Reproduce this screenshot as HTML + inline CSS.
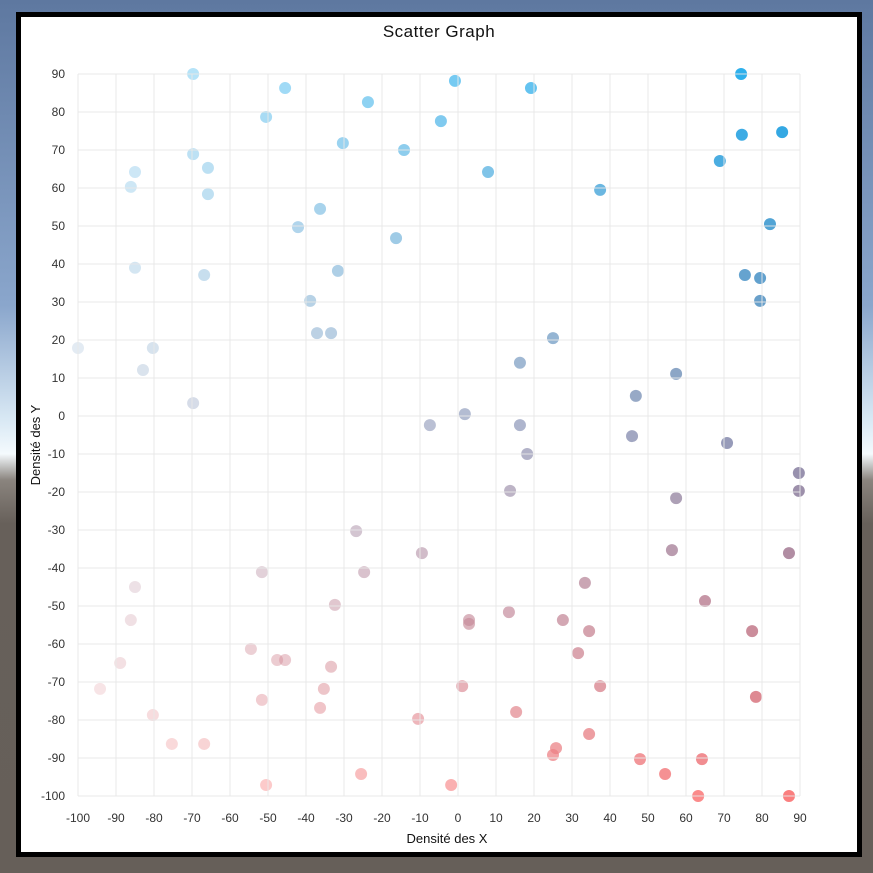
<!DOCTYPE html>
<html><head><meta charset="utf-8"><style>
html,body{margin:0;padding:0;}
body{width:873px;height:873px;overflow:hidden;background:linear-gradient(180deg,#5e78a0 0%,#8aa6cc 35%,#d8e8f4 48%,#f4fafd 52%,#8a847e 55%,#67605a 60%,#665f59 100%);font-family:"Liberation Sans",sans-serif;}
#frame{position:absolute;left:16px;top:12px;width:836px;height:835px;border:5px solid #000;background:#fff;}
svg{position:absolute;left:0;top:0;}
</style></head><body>
<div id="frame"></div>
<svg id="chart" width="873" height="873">
<text x="439" y="37" text-anchor="middle" font-size="17" fill="#111" font-family="Liberation Sans, sans-serif" letter-spacing="0.5">Scatter Graph</text>
<text x="447" y="843" text-anchor="middle" font-size="13" fill="#111">Densité des X</text>
<text x="40" y="445" text-anchor="middle" font-size="13" fill="#111" transform="rotate(-90 40 445)">Densité des Y</text>
<g id="points"></g><g id="grid"></g><g id="ticks"></g>
</svg>
<script>
const xTicks=[-100,-90,-80,-70,-60,-50,-40,-30,-20,-10,0,10,20,30,40,50,60,70,80,90];
const yTicks=[90,80,70,60,50,40,30,20,10,0,-10,-20,-30,-40,-50,-60,-70,-80,-90,-100];
const xs=[-69.7,-45.5,-50.5,-23.7,-0.8,19.2,-4.5,74.5,74.7,85.3,68.9,-30.3,-14.2,7.9,37.4,-69.7,-85,-86.1,-65.8,-65.8,-36.3,-42.1,-16.3,82.1,-85,-66.8,-38.9,-31.6,75.5,79.5,79.5,-100,-80.3,-82.9,-37.1,-33.4,25,16.3,57.4,-69.7,1.8,46.8,-7.4,16.3,45.8,70.8,18.2,89.7,13.7,89.7,57.4,-26.8,56.3,-9.5,87.1,-51.6,-24.7,-85,33.4,65,-32.4,-86.1,2.9,2.9,13.4,27.6,34.5,77.4,-54.5,31.6,-88.9,-47.6,-45.5,-33.4,-94.2,-35.3,1.1,37.4,-51.6,78.4,-36.3,15.3,-80.3,-10.5,-75.3,-66.8,25.8,34.5,25,47.9,64.2,-25.5,54.5,-50.5,-1.8,63.2,87.1];
const ys=[90,86.3,78.7,82.6,88.2,86.3,77.6,90,74,74.7,67.1,71.8,70,64.2,59.5,68.9,64.2,60.3,65.3,58.4,54.5,49.7,46.8,50.5,39,37.1,30.3,38.2,37.1,36.3,30.3,17.9,17.9,12.1,21.8,21.8,20.5,14,11.1,3.4,0.5,5.3,-2.4,-2.4,-5.3,-7.1,-10,-15,-19.7,-19.7,-21.6,-30.3,-35.3,-36.1,-36.1,-41.1,-41.1,-45,-43.9,-48.7,-49.7,-53.7,-53.7,-54.7,-51.6,-53.7,-56.6,-56.6,-61.3,-62.4,-65,-64.2,-64.2,-66,-71.8,-71.8,-71.1,-71.1,-74.7,-73.9,-76.8,-77.9,-78.7,-79.7,-86.3,-86.3,-87.4,-83.7,-89.2,-90.3,-90.3,-94.2,-94.2,-97.1,-97.1,-100,-100];
const NS='http://www.w3.org/2000/svg';
const X=v=>78+(v+100)*3.8, Y=v=>74+(90-v)*3.8;
const grid=document.getElementById('grid'),ticks=document.getElementById('ticks'),pts=document.getElementById('points');
xTicks.forEach(t=>{
 const l=document.createElementNS(NS,'line');
 
 
 l.setAttribute('x1',X(t));l.setAttribute('x2',X(t));l.setAttribute('y1',Y(90));l.setAttribute('y2',Y(-100));
 l.setAttribute('stroke','rgba(232,232,232,0.6)');l.setAttribute('stroke-width','1.5');grid.appendChild(l);
 const tx=document.createElementNS(NS,'text');
 
 
 tx.setAttribute('x',X(t));tx.setAttribute('y',822);tx.setAttribute('text-anchor','middle');tx.setAttribute('font-size','12');tx.setAttribute('fill','#333');
 tx.textContent=t;ticks.appendChild(tx);
});
yTicks.forEach(t=>{
 const l=document.createElementNS(NS,'line');
 
 
 l.setAttribute('x1',X(-100));l.setAttribute('x2',X(90));l.setAttribute('y1',Y(t));l.setAttribute('y2',Y(t));
 l.setAttribute('stroke','rgba(232,232,232,0.6)');l.setAttribute('stroke-width','1.5');grid.appendChild(l);
 const tx=document.createElementNS(NS,'text');
 
 
 tx.setAttribute('x',65);tx.setAttribute('y',Y(t)+4);tx.setAttribute('text-anchor','end');tx.setAttribute('font-size','12');tx.setAttribute('fill','#333');
 tx.textContent=t;ticks.appendChild(tx);
});
xs.forEach((xv,i)=>{
 const yv=ys[i];
 const f=(90-yv)/190;
 const r=Math.round(30+f*220),g=Math.round(170-f*45),b=Math.round(235-f*110);
 const a=0.2+0.8*(xv+100)/190;
 const c=document.createElementNS(NS,'circle');
 
 
 c.setAttribute('cx',X(xv));c.setAttribute('cy',Y(yv));c.setAttribute('r',6);
 c.setAttribute('fill',`rgba(${r},${g},${b},${a.toFixed(2)})`);
 pts.appendChild(c);
});
</script>
</body></html>
